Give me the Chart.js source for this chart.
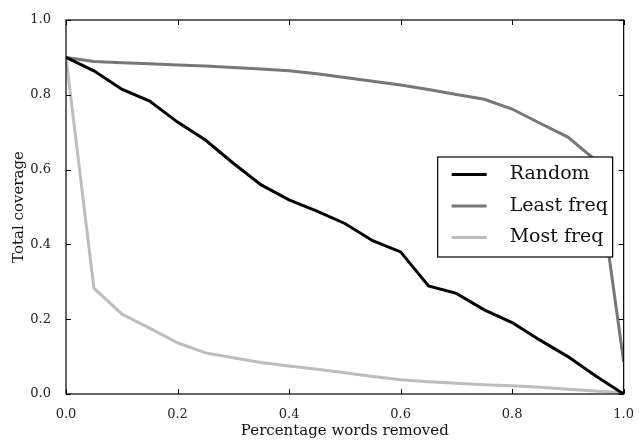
<!DOCTYPE html>
<html>
<head>
<meta charset="utf-8">
<script src="https://cdn.jsdelivr.net/npm/chart.js@4/dist/chart.umd.min.js"></script>
<style>
  html, body { margin: 0; padding: 0; background: #fff; }
  #wrap { width: 639px; height: 442px; position: relative; }
</style>
</head>
<body>
<div id="wrap"><canvas id="c" width="639" height="442"></canvas></div>
<script>
// ---- data ----
const xValues = [0, 0.05, 0.1, 0.15, 0.2, 0.25, 0.3, 0.35, 0.4, 0.45, 0.5, 0.55, 0.6, 0.65, 0.7, 0.75, 0.8, 0.85, 0.9, 0.95, 1.0];
const randomValues = [0.90, 0.864, 0.815, 0.783, 0.727, 0.679, 0.617, 0.559, 0.519, 0.489, 0.456, 0.410, 0.380, 0.289, 0.269, 0.225, 0.191, 0.144, 0.100, 0.048, 0.0];
const leastFreqValues = [0.90, 0.889, 0.886, 0.883, 0.880, 0.877, 0.873, 0.869, 0.864, 0.856, 0.846, 0.836, 0.826, 0.814, 0.801, 0.788, 0.762, 0.724, 0.687, 0.625, 0.086];
const mostFreqValues = [0.90, 0.283, 0.214, 0.176, 0.137, 0.110, 0.097, 0.084, 0.075, 0.066, 0.057, 0.047, 0.038, 0.033, 0.029, 0.025, 0.022, 0.018, 0.013, 0.008, 0.003];
const seriesLabels = ['Random', 'Least freq', 'Most freq'];
const seriesColors = ['#000000', '#777777', '#bdbdbd'];
const xTicks = [0.0, 0.2, 0.4, 0.6, 0.8, 1.0];
const yTicks = [0.0, 0.2, 0.4, 0.6, 0.8, 1.0];
const xTitle = 'Percentage words removed';
const yTitle = 'Total coverage';

const FONT = "'DejaVu Serif', serif";
const seriesValues = [randomValues, leastFreqValues, mostFreqValues];

const datasets = seriesValues.map((vals, i) => ({
  label: seriesLabels[i],
  data: xValues.map((x, j) => ({ x: x, y: vals[j] })),
  borderColor: seriesColors[i],
  backgroundColor: seriesColors[i],
  borderWidth: 3,
  pointRadius: 0,
  tension: 0,
  fill: false
}));

// frame + inward ticks on all four sides
const framePlugin = {
  id: 'frame',
  afterDatasetsDraw(chart) {
    const { ctx, chartArea: a, scales } = chart;
    ctx.save();
    ctx.strokeStyle = '#000';
    ctx.lineWidth = 1.2;
    ctx.strokeRect(a.left, a.top, a.right - a.left, a.bottom - a.top);
    ctx.lineWidth = 1;
    const L = 5;
    ctx.beginPath();
    xTicks.forEach(v => {
      const px = Math.round(scales.x.getPixelForValue(v)) + 0.5;
      ctx.moveTo(px, a.bottom); ctx.lineTo(px, a.bottom - L);
      ctx.moveTo(px, a.top); ctx.lineTo(px, a.top + L);
    });
    yTicks.forEach(v => {
      const py = Math.round(scales.y.getPixelForValue(v)) + 0.5;
      ctx.moveTo(a.left, py); ctx.lineTo(a.left + L, py);
      ctx.moveTo(a.right, py); ctx.lineTo(a.right - L, py);
    });
    ctx.stroke();

    // legend box inside plot area
    const boxR = a.right - 11, boxL = boxR - 175;
    const boxT = a.top + 137, boxB = boxT + 100;
    ctx.fillStyle = '#fff';
    ctx.fillRect(boxL, boxT, boxR - boxL, boxB - boxT);
    ctx.strokeStyle = '#000';
    ctx.lineWidth = 1.2;
    ctx.strokeRect(boxL, boxT, boxR - boxL, boxB - boxT);
    ctx.font = "19px " + FONT;
    ctx.textBaseline = 'middle';
    ctx.textAlign = 'left';
    chart.data.datasets.forEach((ds, i) => {
      const cy = boxT + 17.5 + i * 31.5;
      ctx.strokeStyle = ds.borderColor;
      ctx.lineWidth = 3;
      ctx.beginPath();
      ctx.moveTo(boxL + 14, cy); ctx.lineTo(boxL + 49, cy);
      ctx.stroke();
      ctx.fillStyle = '#111';
      ctx.fillText(ds.label, boxL + 72, cy);
    });
    ctx.restore();
  }
};

new Chart(document.getElementById('c'), {
  type: 'line',
  data: { datasets },
  options: {
    responsive: false,
    animation: false,
    devicePixelRatio: 1,
    layout: { padding: { left: 0, top: 20, right: 13, bottom: 0 } },
    plugins: { legend: { display: false }, tooltip: { enabled: false } },
    scales: {
      x: {
        type: 'linear', min: 0, max: 1,
        grid: { display: false },
        border: { display: false },
        afterBuildTicks: s => { s.ticks = xTicks.map(v => ({ value: v })); },
        afterFit: s => { s.height = 48; },
        ticks: {
          padding: 5, maxRotation: 0,
          color: '#222',
          font: { family: FONT, size: 13 },
          callback: v => Number(v).toFixed(1)
        },
        title: {
          display: true, text: xTitle, color: '#111',
          font: { family: FONT, size: 15 },
          padding: { top: 0, bottom: 2 }
        }
      },
      y: {
        type: 'linear', min: 0, max: 1,
        grid: { display: false },
        border: { display: false },
        afterBuildTicks: s => { s.ticks = yTicks.map(v => ({ value: v })); },
        afterFit: s => { s.width = 66; },
        ticks: {
          padding: 7,
          color: '#222',
          font: { family: FONT, size: 13 },
          callback: v => Number(v).toFixed(1)
        },
        title: {
          display: true, text: yTitle, color: '#111',
          font: { family: FONT, size: 15 },
          padding: { top: 10, bottom: 0 }
        }
      }
    }
  },
  plugins: [framePlugin]
});
</script>
</body>
</html>
